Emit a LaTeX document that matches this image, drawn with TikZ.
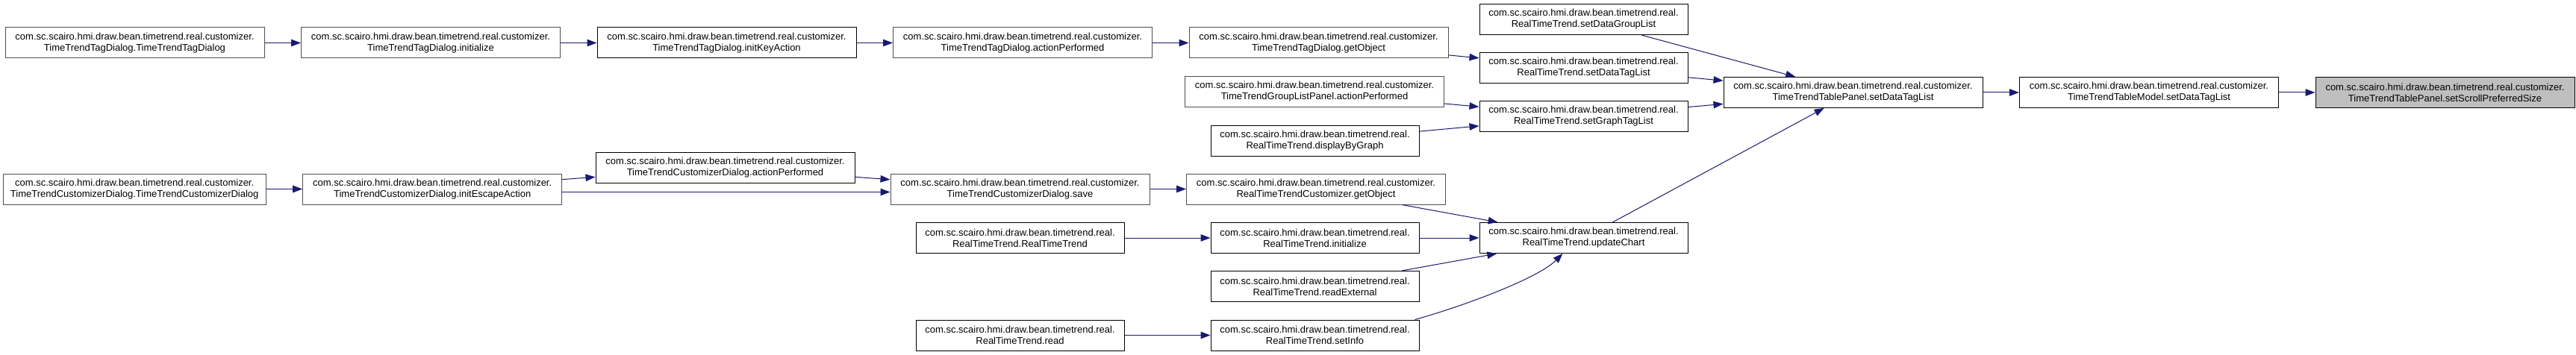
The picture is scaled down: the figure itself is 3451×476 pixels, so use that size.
\documentclass[tikz,border=0pt]{standalone}
\usepackage{fontspec}
\setmainfont{Liberation Sans}
\usetikzlibrary{arrows.meta,positioning}
\definecolor{edgeblue}{HTML}{191970}
\definecolor{boxgray}{HTML}{505050}
\definecolor{focusgray}{HTML}{BFBFBF}

\begin{document}
\begin{tikzpicture}[
  x=1pt,y=-1pt,
  node distance=48.5pt,
  method/.style={draw,fill=white,line width=1pt,minimum width=347pt,minimum height=41pt,
    inner sep=1pt,align=center,font=\fontsize{13}{15}\selectfont},
  rtmethod/.style={method,minimum width=279pt},
  faint/.style={draw=boxgray},
  call/.style={-{Triangle[length=13pt,width=9.5pt]},edgeblue,line width=1pt}
]
  \useasboundingbox (0,0) rectangle (3451,476);

  \node[method,faint] (tagCtor) at (180.5,57.5) {com.sc.scairo.hmi.draw.bean.timetrend.real.customizer.\\TimeTrendTagDialog.TimeTrendTagDialog};
  \node[method,faint,right=of tagCtor] (tagInit) {com.sc.scairo.hmi.draw.bean.timetrend.real.customizer.\\TimeTrendTagDialog.initialize};
  \node[method,right=of tagInit] (tagKey) {com.sc.scairo.hmi.draw.bean.timetrend.real.customizer.\\TimeTrendTagDialog.initKeyAction};
  \node[method,faint,right=of tagKey] (tagAction) {com.sc.scairo.hmi.draw.bean.timetrend.real.customizer.\\TimeTrendTagDialog.actionPerformed};
  \node[method,faint,right=of tagAction] (tagGetObj) {com.sc.scairo.hmi.draw.bean.timetrend.real.customizer.\\TimeTrendTagDialog.getObject};

  \node[method,faint,minimum width=352pt] (custCtor) at (180.2,253.5) {com.sc.scairo.hmi.draw.bean.timetrend.real.customizer.\\TimeTrendCustomizerDialog.TimeTrendCustomizerDialog};
  \node[method,faint,right=of custCtor] (custInit) {com.sc.scairo.hmi.draw.bean.timetrend.real.customizer.\\TimeTrendCustomizerDialog.initEscapeAction};
  \node[method] (custAction) at (971.5,224.5) {com.sc.scairo.hmi.draw.bean.timetrend.real.customizer.\\TimeTrendCustomizerDialog.actionPerformed};
  \node[method,faint] (custSave) at (1366.5,253.5) {com.sc.scairo.hmi.draw.bean.timetrend.real.customizer.\\TimeTrendCustomizerDialog.save};
  \node[method,faint,right=of custSave] (rtcGetObj) {com.sc.scairo.hmi.draw.bean.timetrend.real.customizer.\\RealTimeTrendCustomizer.getObject};

  \node[method,faint] (groupAction) at (1761,123) {com.sc.scairo.hmi.draw.bean.timetrend.real.customizer.\\TimeTrendGroupListPanel.actionPerformed};
  \node[rtmethod] (rtByGraph) at (1761.5,189) {com.sc.scairo.hmi.draw.bean.timetrend.real.\\RealTimeTrend.displayByGraph};

  \node[rtmethod] (rtCtor) at (1366.5,319) {com.sc.scairo.hmi.draw.bean.timetrend.real.\\RealTimeTrend.RealTimeTrend};
  \node[rtmethod] (rtInit) at (1761.5,319) {com.sc.scairo.hmi.draw.bean.timetrend.real.\\RealTimeTrend.initialize};
  \node[rtmethod] (rtReadExt) at (1761.5,384) {com.sc.scairo.hmi.draw.bean.timetrend.real.\\RealTimeTrend.readExternal};
  \node[rtmethod] (rtRead) at (1366.5,449.5) {com.sc.scairo.hmi.draw.bean.timetrend.real.\\RealTimeTrend.read};
  \node[rtmethod] (rtSetInfo) at (1761.5,449.5) {com.sc.scairo.hmi.draw.bean.timetrend.real.\\RealTimeTrend.setInfo};

  \node[rtmethod] (rtGroupList) at (2121.5,26) {com.sc.scairo.hmi.draw.bean.timetrend.real.\\RealTimeTrend.setDataGroupList};
  \node[rtmethod] (rtDataTag) at (2121.5,91) {com.sc.scairo.hmi.draw.bean.timetrend.real.\\RealTimeTrend.setDataTagList};
  \node[rtmethod] (rtGraphTag) at (2121.5,156) {com.sc.scairo.hmi.draw.bean.timetrend.real.\\RealTimeTrend.setGraphTagList};
  \node[rtmethod] (rtUpdate) at (2121.5,319) {com.sc.scairo.hmi.draw.bean.timetrend.real.\\RealTimeTrend.updateChart};

  \node[method] (tablePanel) at (2482.5,124) {com.sc.scairo.hmi.draw.bean.timetrend.real.customizer.\\TimeTrendTablePanel.setDataTagList};
  \node[method,right=of tablePanel] (tableModel) {com.sc.scairo.hmi.draw.bean.timetrend.real.customizer.\\TimeTrendTableModel.setDataTagList};
  \node[method,fill=focusgray,right=of tableModel] (scrollSize) {com.sc.scairo.hmi.draw.bean.timetrend.real.customizer.\\TimeTrendTablePanel.setScrollPreferredSize};

  \draw[call] (tagCtor) -- (tagInit);
  \draw[call] (tagInit) -- (tagKey);
  \draw[call] (tagKey) -- (tagAction);
  \draw[call] (tagAction) -- (tagGetObj);
  \draw[call] (tagGetObj) -- (rtDataTag);
  \draw[call] (groupAction) -- (rtGraphTag);
  \draw[call] (rtByGraph) -- (rtGraphTag);

  \draw[call] (custCtor) -- (custInit);
  \draw[call] (custInit) -- (custAction);
  \draw[call] ([yshift=-4pt]custInit.east) -- ([yshift=-4pt]custSave.west);
  \draw[call] (custAction) -- (custSave);
  \draw[call] (custSave) -- (rtcGetObj);
  \draw[call] (rtcGetObj) -- (rtUpdate);

  \draw[call] (rtCtor) -- (rtInit);
  \draw[call] (rtInit) -- (rtUpdate);
  \draw[call] (rtReadExt) -- (rtUpdate);
  \draw[call] (rtRead) -- (rtSetInfo);
  \draw[call] ([xshift=-6pt]rtSetInfo.north east) .. controls +(55,-15) and +(-35,35) .. ([xshift=-28pt]rtUpdate.south);

  \draw[call] (rtGroupList) -- (tablePanel);
  \draw[call] (rtDataTag) -- (tablePanel);
  \draw[call] (rtGraphTag) -- (tablePanel);
  \draw[call] (rtUpdate) -- (tablePanel);
  \draw[call] (tablePanel) -- (tableModel);
  \draw[call] (tableModel) -- (scrollSize);
\end{tikzpicture}
\end{document}
